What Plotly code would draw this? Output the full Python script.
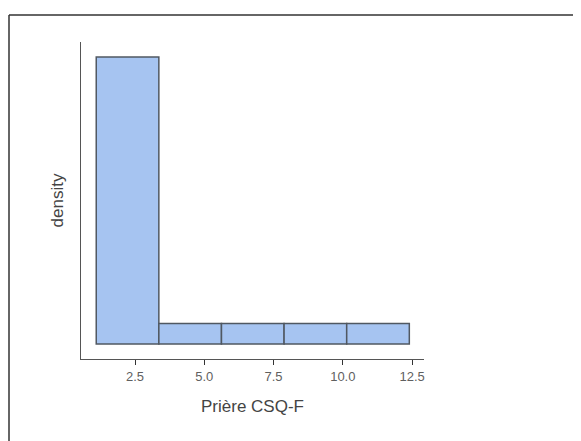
import plotly.graph_objects as go

bin_edges = [1.1, 3.36, 5.62, 7.88, 10.14, 12.4]
counts = [14, 1, 1, 1, 1]
tick_vals = [2.5, 5.0, 7.5, 10.0, 12.5]
tick_text = ["2.5", "5.0", "7.5", "10.0", "12.5"]

n = sum(counts)
centers = [(bin_edges[i] + bin_edges[i + 1]) / 2 for i in range(len(counts))]
widths = [bin_edges[i + 1] - bin_edges[i] for i in range(len(counts))]
density = [c / (n * w) for c, w in zip(counts, widths)]

fig = go.Figure()
fig.add_trace(go.Bar(
    x=centers, y=density, width=widths,
    marker=dict(color="#a6c4f1", line=dict(color="#505862", width=1.5)),
    hoverinfo="skip",
))

ymax = density[0]
fig.update_layout(
    width=581, height=441,
    margin=dict(l=73, r=165, t=34, b=90),
    paper_bgcolor="white", plot_bgcolor="white",
    showlegend=False,
    font=dict(family="Liberation Sans, Arial, sans-serif", color="#333333"),
    xaxis=dict(
        range=[0.55, 12.93],
        tickmode="array", tickvals=tick_vals, ticktext=tick_text,
        ticks="outside", ticklen=5, tickwidth=1, tickcolor="#333333",
        tickfont=dict(size=13, color="#5f5f5f"),
        showline=True, linecolor="#555555", linewidth=1.3,
        showgrid=False, zeroline=False,
        title=dict(text="Prière CSQ-F", font=dict(size=17, color="#444444"), standoff=17),
    ),
    yaxis=dict(
        range=[-ymax * 15 / 287, ymax * 302 / 287],
        showticklabels=False, ticks="",
        showline=True, linecolor="#555555", linewidth=1.3,
        showgrid=False, zeroline=False,
        title=dict(text="density", font=dict(size=17, color="#444444"), standoff=11),
    ),
    shapes=[
        dict(type="line", xref="paper", yref="paper", x0=-72 / 343, x1=2.0, y0=(317 + 27) / 317, y1=(317 + 27) / 317,
             line=dict(color="#333333", width=1.5)),
        dict(type="line", xref="paper", yref="paper", x0=-72 / 343, x1=-72 / 343, y0=(317 + 27) / 317, y1=-2.0,
             line=dict(color="#333333", width=1.5)),
    ],
)

fig.write_html("out.html")
